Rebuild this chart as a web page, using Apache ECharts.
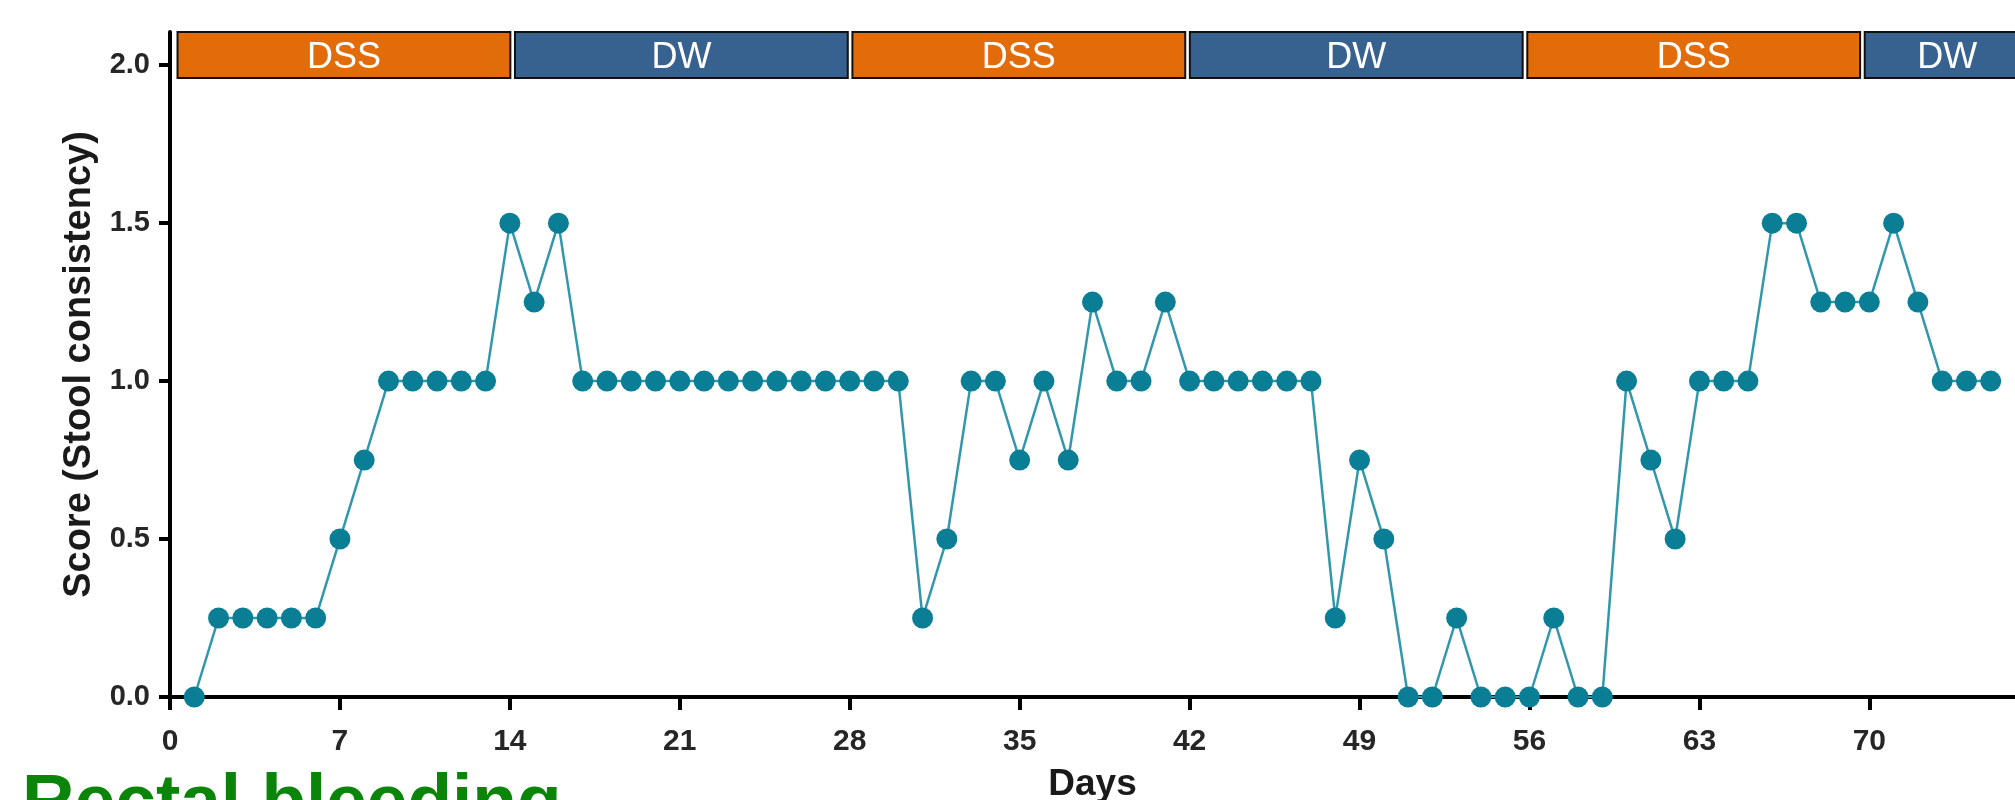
<!DOCTYPE html>
<html>
<head>
<meta charset="utf-8">
<script src="https://cdn.jsdelivr.net/npm/echarts@6/dist/echarts.min.js"></script>
<style>
html,body{margin:0;padding:0;background:#fff;}
#chart{width:2015px;height:800px;}
</style>
</head>
<body>
<div id="chart"></div>
<script>
// ---- data ----
const days = [1,2,3,4,5,6,7,8,9,10,11,12,13,14,15,16,17,18,19,20,21,22,23,24,25,26,27,28,29,30,31,32,33,34,35,36,37,38,39,40,41,42,43,44,45,46,47,48,49,50,51,52,53,54,55,56,57,58,59,60,61,62,63,64,65,66,67,68,69,70,71,72,73,74,75];
const scores = [0,0.25,0.25,0.25,0.25,0.25,0.5,0.75,1,1,1,1,1,1.5,1.25,1.5,1,1,1,1,1,1,1,1,1,1,1,1,1,1,0.25,0.5,1,1,0.75,1,0.75,1.25,1,1,1.25,1,1,1,1,1,1,0.25,0.75,0.5,0,0,0.25,0,0,0,0.25,0,0,1,0.75,0.5,1,1,1,1.5,1.5,1.25,1.25,1.25,1.5,1.25,1,1,1];
const xTicks = [0,7,14,21,28,35,42,49,56,63,70];
const yTicks = [0,0.5,1,1.5,2];
const phaseNames = ['DSS','DW','DSS','DW','DSS','DW'];
const phaseStart = [0.31,14.21,28.11,42.01,55.91,69.81];
const phaseEnd   = [14.02,27.92,41.82,55.72,69.62,76.6];

const phaseColors = {DSS:'#E36C0A', DW:'#37618F'};
const bandData = phaseNames.map((n,i)=>[phaseStart[i], phaseEnd[i], n]);

const chart = echarts.init(document.getElementById('chart'), null, {renderer:'canvas'});
const FONT = 'Liberation Sans, Arial, sans-serif';

chart.setOption({
  animation:false,
  backgroundColor:'#fff',
  grid:{left:170, top:32, right:0, height:665, containLabel:false, outerBoundsMode:'none'},
  xAxis:{
    type:'value', min:0, max:76.0, interval:7,
    name:'Days', nameLocation:'middle', nameGap:69,
    nameTextStyle:{fontFamily:FONT, fontWeight:'bold', fontSize:37, color:'#1a1a1a'},
    axisLine:{show:true, onZero:false, lineStyle:{color:'#000', width:4}},
    axisTick:{show:true, length:13, lineStyle:{color:'#000', width:4}, customValues:xTicks},
    axisLabel:{fontFamily:FONT, fontWeight:'bold', fontSize:30, color:'#262626', margin:30, customValues:xTicks},
    splitLine:{show:false}
  },
  yAxis:{
    type:'value', min:0, max:2.105, interval:0.5,
    name:'Score (Stool consistency)', nameLocation:'middle', nameGap:42,
    nameTextStyle:{fontFamily:FONT, fontWeight:'bold', fontSize:38, color:'#1a1a1a'},
    axisLine:{show:true, lineStyle:{color:'#000', width:4}},
    axisTick:{show:true, length:11, lineStyle:{color:'#000', width:4}, customValues:yTicks},
    axisLabel:{fontFamily:FONT, fontWeight:'bold', fontSize:29, color:'#262626', margin:20,
      customValues:yTicks, formatter:v=>v.toFixed(1)},
    splitLine:{show:false}
  },
  series:[
    {
      type:'custom',
      data:bandData,
      clip:false,
      z:5,
      renderItem:function(params, api){
        const x1 = api.coord([api.value(0), 0])[0];
        const x2 = api.coord([api.value(1), 0])[0];
        const top = params.coordSys.y;
        const h = 46;
        const name = phaseNames[params.dataIndex];
        return {
          type:'group',
          children:[
            {type:'rect', shape:{x:x1, y:top, width:x2-x1, height:h},
             style:{fill:phaseColors[name], stroke:'#111', lineWidth:2}},
            {type:'text', style:{text:name, x:(x1+x2)/2, y:top+h/2+3, align:'center', verticalAlign:'middle',
             fill:'#fff', fontFamily:FONT, fontSize:36}}
          ]
        };
      }
    },
    {
      type:'line',
      data:days.map((d,i)=>[d, scores[i]]),
      symbol:'circle', symbolSize:21,
      itemStyle:{color:'#0A7E95'},
      lineStyle:{color:'#3397AC', width:2.5},
      z:3
    }
  ],
  graphic:[
    {type:'text', left:22, top:768, style:{text:'Rectal bleeding', fontFamily:FONT, fontWeight:'bold', fontSize:73, fill:'#0a850a'}}
  ]
});
</script>
</body>
</html>
